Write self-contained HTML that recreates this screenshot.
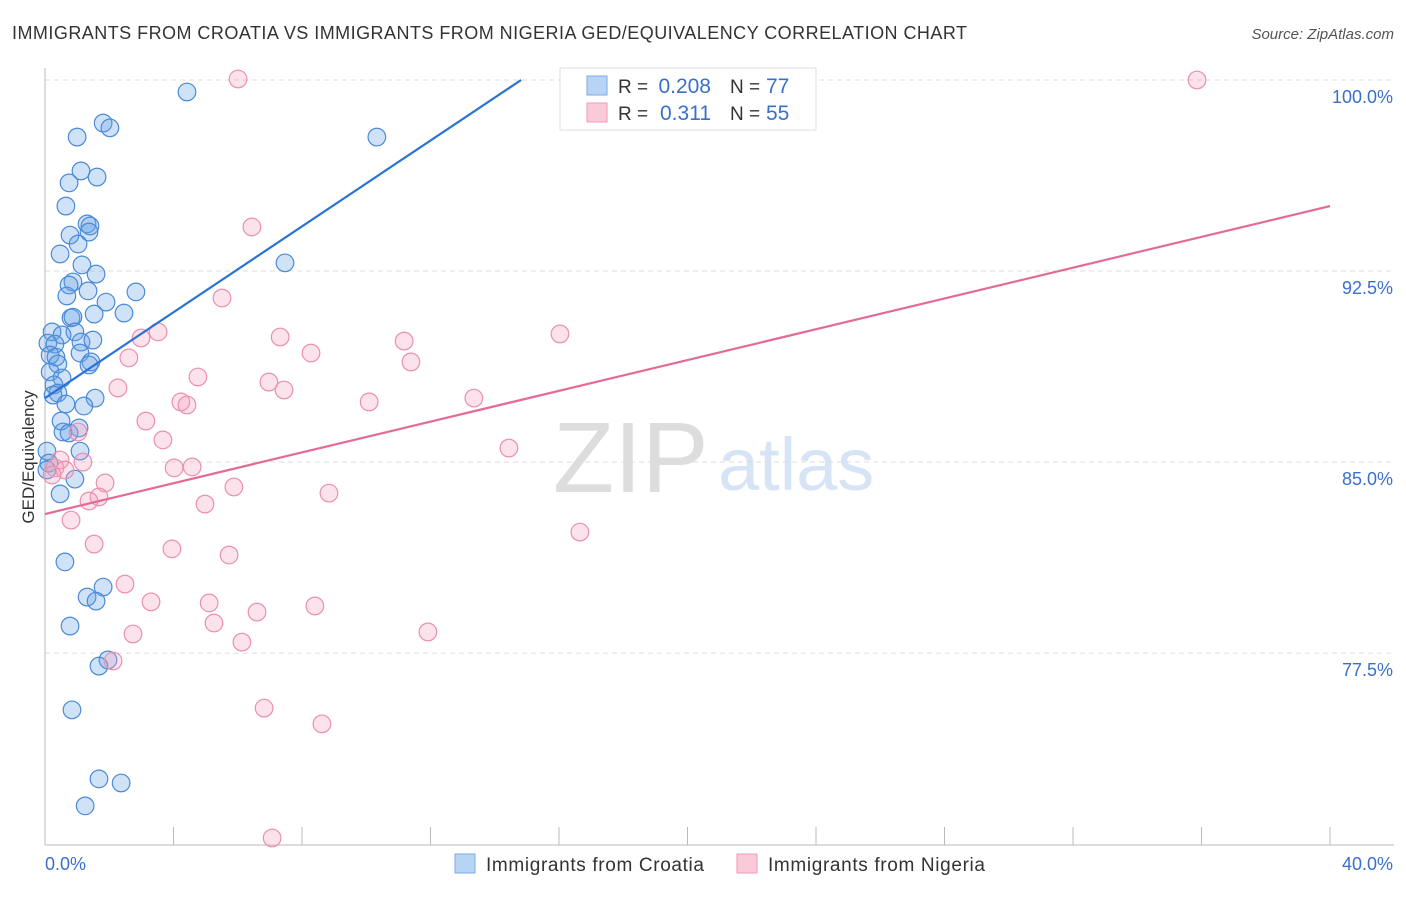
<!DOCTYPE html>
<html><head><meta charset="utf-8"><style>
body{margin:0;background:#fff;font-family:"Liberation Sans",sans-serif}
svg text{font-family:"Liberation Sans",sans-serif}
</style></head><body>
<svg id="c" width="1406" height="892"></svg>
<script>
const croatiaX=[];const croatiaY=[];const nigeriaX=[];const nigeriaY=[];
const bluePx=[[187,92],[103,123],[110,128],[77,137],[377,137],[81,171],[97,177],[69,183],[66,206],[87,224],[90,226],[89,232],[70,235],[78,244],[60,254],[285,263],[82,265],[96,274],[73,282],[69,285],[67,296],[88,291],[106,302],[136,292],[94,314],[124,313],[71,318],[73,317],[75,332],[52,332],[62,335],[81,342],[93,340],[48,343],[55,344],[80,353],[50,355],[56,357],[91,362],[58,364],[89,365],[50,372],[62,378],[54,385],[58,393],[53,395],[95,398],[66,404],[84,406],[61,421],[79,428],[63,432],[69,433],[80,451],[47,451],[49,463],[47,470],[75,479],[60,494],[65,562],[103,587],[87,597],[96,601],[70,626],[108,660],[99,666],[72,710],[99,779],[121,783],[85,806]];
const pinkPx=[[238,79],[1197,80],[252,227],[222,298],[158,332],[141,338],[280,337],[404,341],[560,334],[311,353],[129,358],[411,362],[198,377],[118,388],[269,382],[284,390],[181,402],[187,405],[369,402],[474,398],[146,421],[163,440],[78,432],[509,448],[60,460],[83,462],[55,468],[65,470],[174,468],[192,467],[52,475],[105,483],[234,487],[329,493],[99,497],[89,501],[205,504],[71,520],[580,532],[94,544],[172,549],[229,555],[125,584],[151,602],[209,603],[315,606],[257,612],[214,623],[133,634],[428,632],[242,642],[113,661],[264,708],[322,724],[272,838]];
bluePx.forEach(p=>{croatiaX.push(+((p[0]-45)/1285*40).toFixed(2));croatiaY.push(+(100-(p[1]-80)/25.47).toFixed(2));});
pinkPx.forEach(p=>{nigeriaX.push(+((p[0]-45)/1285*40).toFixed(2));nigeriaY.push(+(100-(p[1]-80)/25.47).toFixed(2));});
const yTicks=[100,92.5,85,77.5];
const yTickLabels=["100.0%","92.5%","85.0%","77.5%"];
const blueTrend=[[0,87.51],[14.82,100]];
const pinkTrend=[[0,82.96],[40,95.05]];
const sx=v=>45+v/40*1285, sy=v=>80+(100-v)*25.47;
const s=document.getElementById('c'),NS='http://www.w3.org/2000/svg';
function el(t,a,txt){const e=document.createElementNS(NS,t);for(const k in a)e.setAttribute(k,a[k]);if(txt!=null)e.textContent=txt;s.appendChild(e);return e;}
let e;
e=el('text',{x:12,y:39,'font-size':18,fill:'#333',textLength:955,lengthAdjust:'spacing'},'IMMIGRANTS FROM CROATIA VS IMMIGRANTS FROM NIGERIA GED/EQUIVALENCY CORRELATION CHART');

e=el('text',{x:1394,y:39,'font-size':15,fill:'#555','text-anchor':'end','font-style':'italic'},'Source: ZipAtlas.com');

e=el('text',{x:553,y:492,'font-size':100,fill:'#ddd','font-family':'Liberation Serif'},'ZIP');

e=el('text',{x:718,y:490,'font-size':74,fill:'#d6e4f5'},'atlas');

yTicks.forEach((v,i)=>{
 e=el('line',{x1:45,x2:1394,y1:sy(v),y2:sy(v),stroke:'#ddd','stroke-dasharray':'5,4'});
 
 e=el('text',{x:1393,y:sy(v)+23,'font-size':18,fill:'#3a70c8','text-anchor':'end'},yTickLabels[i]);
 
});
e=el('line',{x1:45,x2:45,y1:68,y2:845,stroke:'#bbb'});

e=el('line',{x1:45,x2:1394,y1:845,y2:845,stroke:'#bbb'});

for(let v=0;v<=40;v+=4){e=el('line',{x1:sx(v),x2:sx(v),y1:827,y2:845,stroke:'#bbb'});
 }
e=el('text',{x:45,y:870,'font-size':18,fill:'#3a70c8'},'0.0%');

e=el('text',{x:1393,y:870,'font-size':18,fill:'#3a70c8','text-anchor':'end'},'40.0%');

e=el('text',{x:34,y:457,'font-size':17,fill:'#333','text-anchor':'middle',transform:'rotate(-90 34 457)'},'GED/Equivalency');

croatiaX.forEach((x,i)=>{e=el('circle',{cx:sx(x),cy:sy(croatiaY[i]),r:8.8,fill:'rgba(100,160,230,0.3)',stroke:'#4a8ad8','stroke-width':1.2});
 });
nigeriaX.forEach((x,i)=>{e=el('circle',{cx:sx(x),cy:sy(nigeriaY[i]),r:8.8,fill:'rgba(245,160,190,0.3)',stroke:'#eb8fae','stroke-width':1.2});
 });
e=el('line',{x1:sx(blueTrend[0][0]),y1:sy(blueTrend[0][1]),x2:sx(blueTrend[1][0]),y2:sy(blueTrend[1][1]),stroke:'#2a72d4','stroke-width':2.2});

e=el('line',{x1:sx(pinkTrend[0][0]),y1:sy(pinkTrend[0][1]),x2:sx(pinkTrend[1][0]),y2:sy(pinkTrend[1][1]),stroke:'#e46b98','stroke-width':2.2});

e=el('rect',{x:560,y:68,width:256,height:62,fill:'#fff',stroke:'#ddd'});

e=el('rect',{x:587,y:76,width:20,height:19,fill:'#b8d4f5',stroke:'#7aaae6'});

e=el('rect',{x:587,y:103,width:20,height:19,fill:'#fbcad9',stroke:'#f09ab7'});

[[93,'0.208','77'],[120,'0.311','55']].forEach((r,i)=>{
 e=el('text',{x:618,y:r[0],'font-size':19,fill:'#333'},'R =');
 e=el('text',{x:711,y:r[0],'font-size':21,fill:'#3a70c8','text-anchor':'end'},r[1]);
 e=el('text',{x:730,y:r[0],'font-size':19,fill:'#333'},'N =');
 e=el('text',{x:766,y:r[0],'font-size':21,fill:'#3a70c8'},r[2]);
});
e=el('rect',{x:455,y:854,width:20,height:19,fill:'#b8d4f5',stroke:'#7aaae6'});

e=el('text',{x:486,y:871,'font-size':19,fill:'#333',textLength:218,lengthAdjust:'spacing'},'Immigrants from Croatia');

e=el('rect',{x:737,y:854,width:20,height:19,fill:'#fbcad9',stroke:'#f09ab7'});

e=el('text',{x:768,y:871,'font-size':19,fill:'#333',textLength:217,lengthAdjust:'spacing'},'Immigrants from Nigeria');

</script>
</body></html>
